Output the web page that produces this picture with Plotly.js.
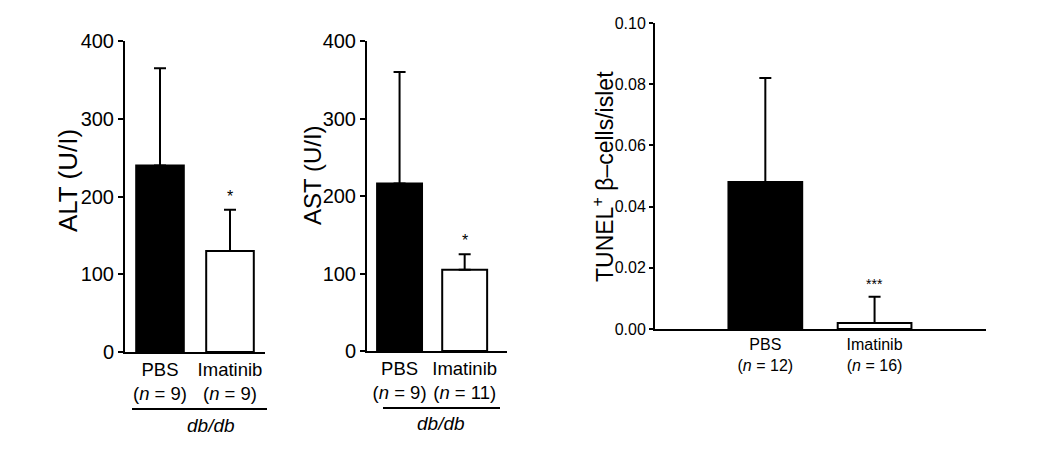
<!DOCTYPE html>
<html>
<head>
<meta charset="utf-8">
<script src="https://cdn.plot.ly/plotly-3.0.1.min.js"></script>
<style>
  html, body { margin: 0; padding: 0; background: #fff; }
  #chart { width: 1058px; height: 471px; }
</style>
</head>
<body>
<div id="chart"></div>
<script>
const W = 1058, H = 471;

// ALT panel
const altLabels = ["PBS<br>(<i>n</i> = 9)", "Imatinib<br>(<i>n</i> = 9)"];
const altMeans = [240, 130];
const altErr = [125, 53];
const altStars = ["", "*"];

// AST panel
const astLabels = ["PBS<br>(<i>n</i> = 9)", "Imatinib<br>(<i>n</i> = 11)"];
const astMeans = [216, 105];
const astErr = [144, 20];
const astStars = ["", "*"];

// TUNEL panel
const tunLabels = ["PBS<br>(<i>n</i> = 12)", "Imatinib<br>(<i>n</i> = 16)"];
const tunMeans = [0.048, 0.002];
const tunErr = [0.034, 0.0085];
const tunStars = ["", "***"];

const barColors = ["#000000", "#ffffff"];
const FONT = "Liberation Sans, Arial, sans-serif";

// pixel helpers (margins are zero so paper coords map straight to pixels)
const px = x => x / W;
const py = y => (H - y) / H;

function barTrace(means, errs, xa, ya, width) {
  return {
    type: "bar",
    x: means.map((_, i) => i),
    y: means,
    xaxis: xa,
    yaxis: ya,
    width: width,
    marker: { color: barColors, line: { color: "#000", width: 2 } },
    error_y: {
      type: "data",
      symmetric: false,
      array: errs,
      arrayminus: errs.map(() => 0),
      color: "#000",
      thickness: 2,
      width: 6
    },
    hoverinfo: "skip",
    showlegend: false
  };
}

function starNotes(stars, means, errs, xref, yref, size) {
  return stars.map((s, i) => ({
    text: s, x: i, y: means[i] + errs[i], xref: xref, yref: yref,
    xanchor: "center", yanchor: "bottom", yshift: 3, showarrow: false,
    font: { family: FONT, size: size, color: "#000" }
  })).filter(a => a.text);
}

function paperText(text, x, y, size, angle) {
  return {
    text: text, x: px(x), y: py(y), xref: "paper", yref: "paper",
    xanchor: "center", yanchor: "middle", textangle: angle || 0,
    showarrow: false, font: { family: FONT, size: size, color: "#000" }
  };
}

const yBase = {
  showline: true, linecolor: "#000", linewidth: 2,
  ticks: "outside", ticklen: 5, tickwidth: 2, tickcolor: "#000",
  showgrid: false, zeroline: false, fixedrange: true
};
const xBase = {
  showline: true, linecolor: "#000", linewidth: 2,
  ticks: "",
  showgrid: false, zeroline: false, fixedrange: true,
  tickvals: [0, 1]
};

const data = [
  barTrace(altMeans, altErr, "x", "y", 0.68),
  barTrace(astMeans, astErr, "x2", "y2", 0.69),
  barTrace(tunMeans, tunErr, "x3", "y3", 0.675)
];

const layout = {
  width: W, height: H,
  margin: { l: 0, r: 0, t: 0, b: 0 },
  paper_bgcolor: "#fff", plot_bgcolor: "#fff",
  font: { family: FONT, color: "#000" },
  xaxis: Object.assign({}, xBase, {
    domain: [px(125), px(265)], range: [-0.5, 1.5], anchor: "y",
    ticktext: altLabels, tickfont: { family: FONT, size: 18.5 }
  }),
  yaxis: Object.assign({}, yBase, {
    domain: [py(352), py(41)], range: [0, 400], dtick: 100, anchor: "x",
    tickfont: { family: FONT, size: 20 }
  }),
  xaxis2: Object.assign({}, xBase, {
    domain: [px(367), px(507)], range: [-0.5, 1.65], anchor: "y2",
    ticktext: astLabels, tickfont: { family: FONT, size: 18.5 }
  }),
  yaxis2: Object.assign({}, yBase, {
    domain: [py(351), py(41)], range: [0, 400], dtick: 100, anchor: "x2",
    tickfont: { family: FONT, size: 20 }
  }),
  xaxis3: Object.assign({}, xBase, {
    domain: [px(655), px(986)], range: [-1.01, 2.02], anchor: "y3",
    ticktext: tunLabels, tickfont: { family: FONT, size: 16 }
  }),
  yaxis3: Object.assign({}, yBase, {
    domain: [py(329), py(23)], range: [0, 0.1], dtick: 0.02, tickformat: ".2f",
    anchor: "x3", ticklen: 4, tickfont: { family: FONT, size: 16 }
  }),
  annotations: [
    paperText("ALT (U/I)", 68, 181, 26, -90),
    paperText("AST (U/I)", 312, 175, 24, -90),
    paperText("TUNEL<sup>+</sup> β–cells/islet", 603, 177, 23, -90),
    paperText("<i>db/db</i>", 211, 425, 19),
    paperText("<i>db/db</i>", 441, 423, 19)
  ]
    .concat(starNotes(altStars, altMeans, altErr, "x", "y", 16))
    .concat(starNotes(astStars, astMeans, astErr, "x2", "y2", 16))
    .concat(starNotes(tunStars, tunMeans, tunErr, "x3", "y3", 14)),
  shapes: [
    { type: "line", xref: "paper", yref: "paper", x0: px(132), x1: px(267), y0: py(409), y1: py(409),
      line: { color: "#000", width: 2 } },
    { type: "line", xref: "paper", yref: "paper", x0: px(383), x1: px(500), y0: py(408), y1: py(408),
      line: { color: "#000", width: 2 } }
  ]
};

Plotly.newPlot("chart", data, layout, { displayModeBar: false, staticPlot: true });
</script>
</body>
</html>
